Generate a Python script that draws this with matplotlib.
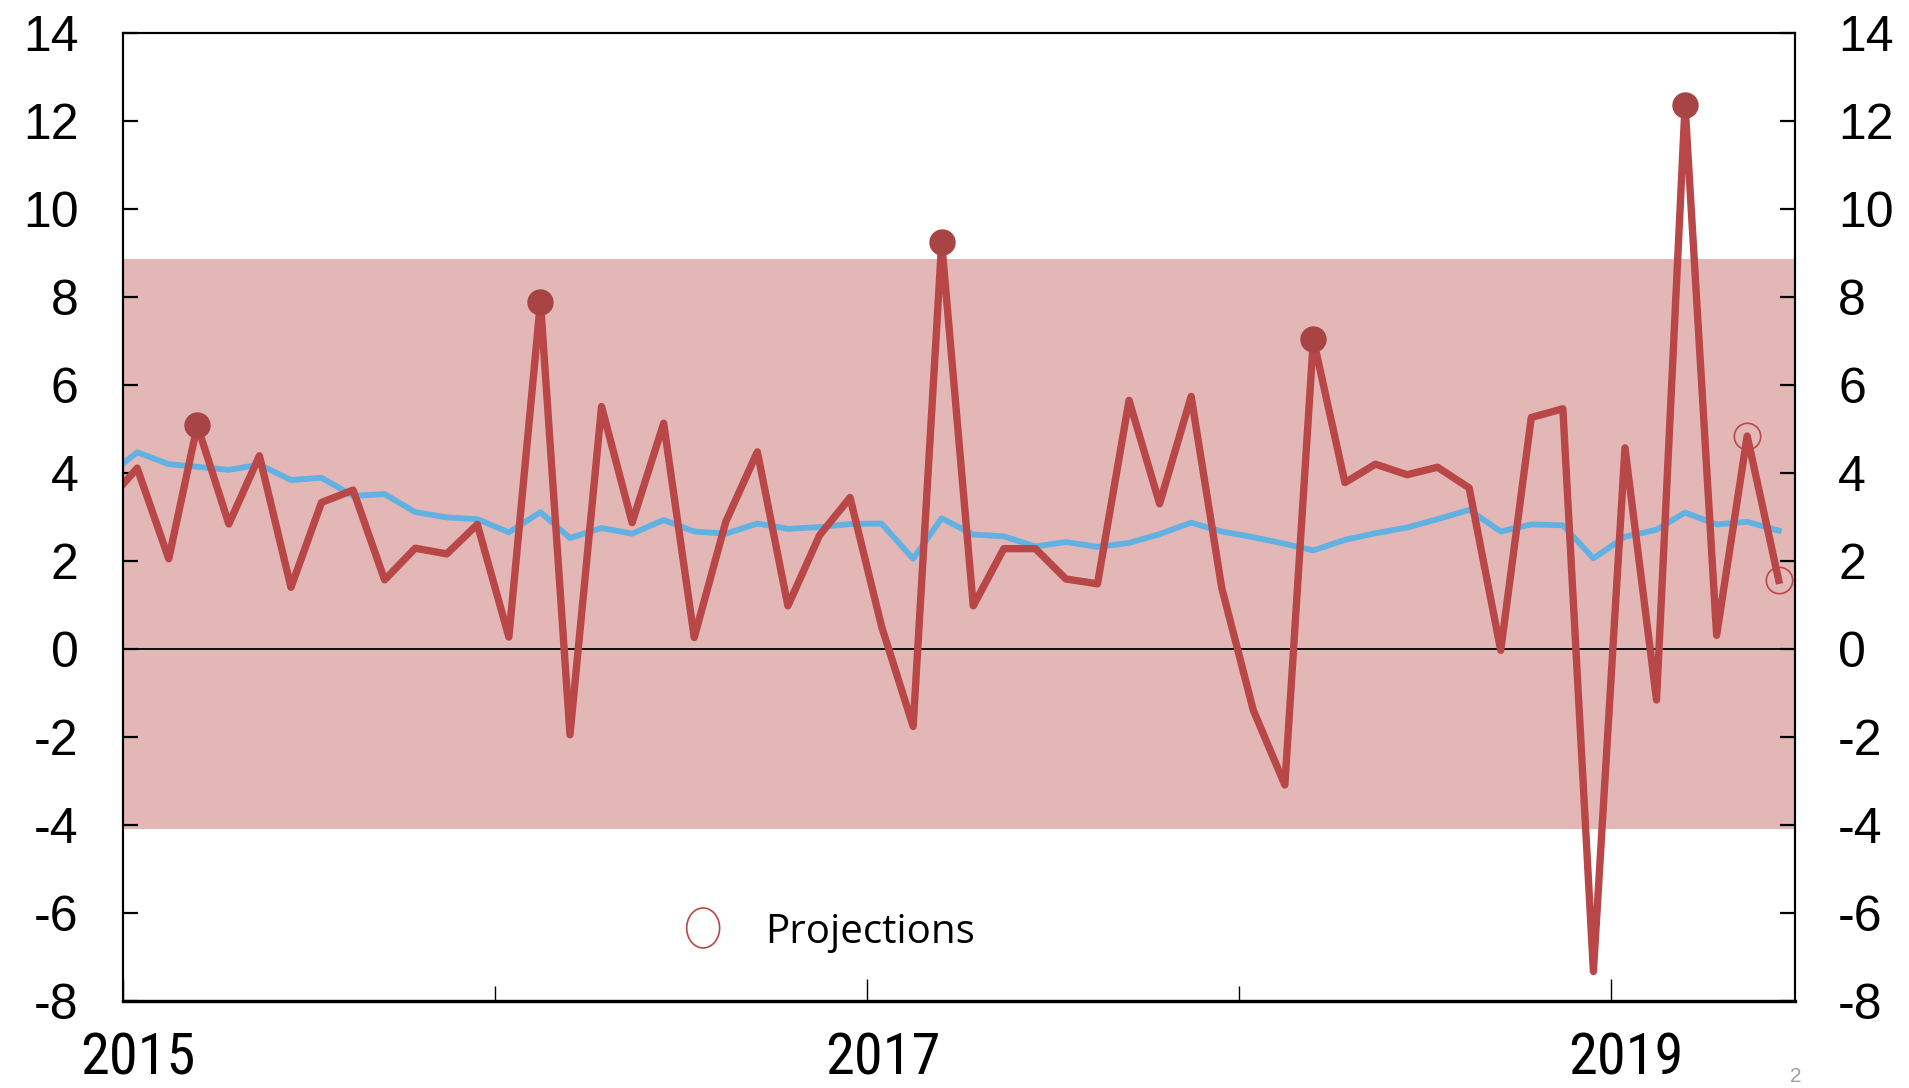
import matplotlib
matplotlib.use("Agg")
import matplotlib.pyplot as plt
import matplotlib.transforms as mtransforms
from matplotlib import font_manager
from matplotlib.patches import Ellipse
import pandas as pd

# ---- Data (monthly, Dec 2014 - Jun 2019) ----
months = pd.date_range("2014-12-01", periods=55, freq="MS") + pd.Timedelta(days=14)

red_series = [3.3,
              4.11, 2.05, 5.08, 2.84, 4.39, 1.40, 3.33, 3.61, 1.57, 2.29, 2.16, 2.83,
              0.27, 7.89, -1.95, 5.51, 2.87, 5.13, 0.26, 2.89, 4.48, 0.98, 2.58, 3.44,
              0.51, -1.76, 9.24, 0.98, 2.28, 2.28, 1.59, 1.48, 5.65, 3.30, 5.74, 1.39,
              -1.39, -3.09, 7.04, 3.78, 4.20, 3.96, 4.13, 3.66, -0.03, 5.26, 5.46, -7.33,
              4.57, -1.16, 12.36, 0.31, 4.84, 1.56]

blue_series = [3.9,
               4.47, 4.20, 4.14, 4.07, 4.19, 3.84, 3.89, 3.48, 3.52, 3.11, 2.99, 2.95,
               2.65, 3.11, 2.52, 2.75, 2.62, 2.93, 2.67, 2.62, 2.85, 2.73, 2.77, 2.84,
               2.85, 2.05, 2.97, 2.60, 2.56, 2.33, 2.43, 2.32, 2.41, 2.61, 2.87, 2.67,
               2.54, 2.39, 2.24, 2.48, 2.63, 2.76, 2.95, 3.16, 2.67, 2.83, 2.81, 2.06,
               2.55, 2.71, 3.10, 2.83, 2.89, 2.69]

peak_months = ["2015-03", "2016-02", "2017-03", "2018-03", "2019-03"]
projection_months = ["2019-05", "2019-06"]

band_low, band_high = -4.1, 8.87
year_labels = [2015, 2017, 2019]
year_ticks_major = [2015, 2017, 2019]
year_ticks_minor = [2016, 2018]

# ---- Style ----
RED = "#B94747"
RED_DARK = "#A94444"
BLUE = "#62B1E3"
BAND = "#E4B7B7"

names = {f.name for f in font_manager.fontManager.ttflist}
BASE_FONT = "Liberation Sans" if "Liberation Sans" in names else "DejaVu Sans"
LEGEND_FONT = "Open Sans" if "Open Sans" in names else BASE_FONT

# narrow face for the year labels if one is around
narrow = None
for cand in ["Liberation Sans Narrow", "Arial Narrow", "Roboto Condensed",
             "Open Sans Condensed", "DejaVu Sans Condensed"]:
    if cand in names:
        narrow = cand
        break
if narrow is None:
    for f in font_manager.fontManager.ttflist:
        if f.name == "DejaVu Sans" and f.stretch == "condensed" and f.weight in (400, "normal"):
            narrow = "DejaVu Sans"
            break

plt.rcParams["font.family"] = BASE_FONT
plt.rcParams["axes.unicode_minus"] = False

fig = plt.figure(figsize=(19.09, 10.88), dpi=100)
ax = fig.add_axes([0.0644, 0.0800, 0.8759, 0.8897])

ax.axhspan(band_low, band_high, color=BAND, lw=0, zorder=0)
ax.axhline(0, color="black", lw=1.3, zorder=1)

ax.plot(months, blue_series, color=BLUE, lw=4.2, zorder=2, solid_joinstyle="round")
ax.plot(months, red_series, color=RED, lw=5.3, zorder=3, solid_joinstyle="round")

s = pd.Series(red_series, index=months.strftime("%Y-%m"))
idx = list(s.index)
peak_x = [months[idx.index(m)] for m in peak_months]
ax.plot(peak_x, s[peak_months].values, "o", color=RED_DARK, ms=18, zorder=4)

proj_x = [months[idx.index(m)] for m in projection_months]
ax.plot(proj_x, s[projection_months].values, "o", mfc="none", mec=RED,
        mew=1.2, ms=19, zorder=4)

ax.set_ylim(-8, 14)
ax.set_xlim(pd.Timestamp("2015-01-01"), pd.Timestamp("2019-07-01"))
ax.set_yticks(range(-8, 15, 2))

# x ticks at year boundaries, labels drawn at mid-January
ax.set_xticks([pd.Timestamp(f"{y}-01-01") for y in year_ticks_major])
ax.set_xticks([pd.Timestamp(f"{y}-01-01") for y in year_ticks_minor], minor=True)
ax.tick_params(axis="x", which="major", direction="in", length=16, width=1.0,
               labelbottom=False)
ax.tick_params(axis="x", which="minor", direction="in", length=11, width=1.0)

ax.tick_params(axis="y", direction="in", length=11, width=1.6, pad=32,
               labelsize=36, left=True, right=False)

ax2 = ax.twinx()
ax2.set_ylim(ax.get_ylim())
ax2.set_yticks(range(-8, 15, 2))
ax2.tick_params(axis="y", direction="in", length=11, width=1.6, pad=31,
                labelsize=36)

for a in (ax, ax2):
    for side in ("left", "right", "top"):
        a.spines[side].set_linewidth(1.5)
    a.spines["bottom"].set_linewidth(2.3)

trans = mtransforms.blended_transform_factory(ax.transData, fig.transFigure)
for y in year_labels:
    if narrow is not None:
        ax.text(pd.Timestamp(f"{y}-01-16"), 0.001, str(y), transform=trans,
                ha="center", va="bottom", fontsize=42, family=narrow,
                fontstretch="condensed")
    else:
        ax.text(pd.Timestamp(f"{y}-01-16"), 0.001, str(y), transform=trans,
                ha="center", va="bottom", fontsize=37)

# legend
ax.add_patch(Ellipse((0.347, 0.0754), 0.0197, 0.0413, transform=ax.transAxes,
                     fill=False, ec=RED, lw=1.2, zorder=5))
ax.text(0.384, 0.070, "Projections", transform=ax.transAxes, ha="left",
        va="center", fontsize=29, family=LEGEND_FONT)

fig.text(0.9405, 0.002, "2", color="#A0A0A0", fontsize=15, ha="center",
         va="bottom")

fig.savefig("out.png", dpi=100)
